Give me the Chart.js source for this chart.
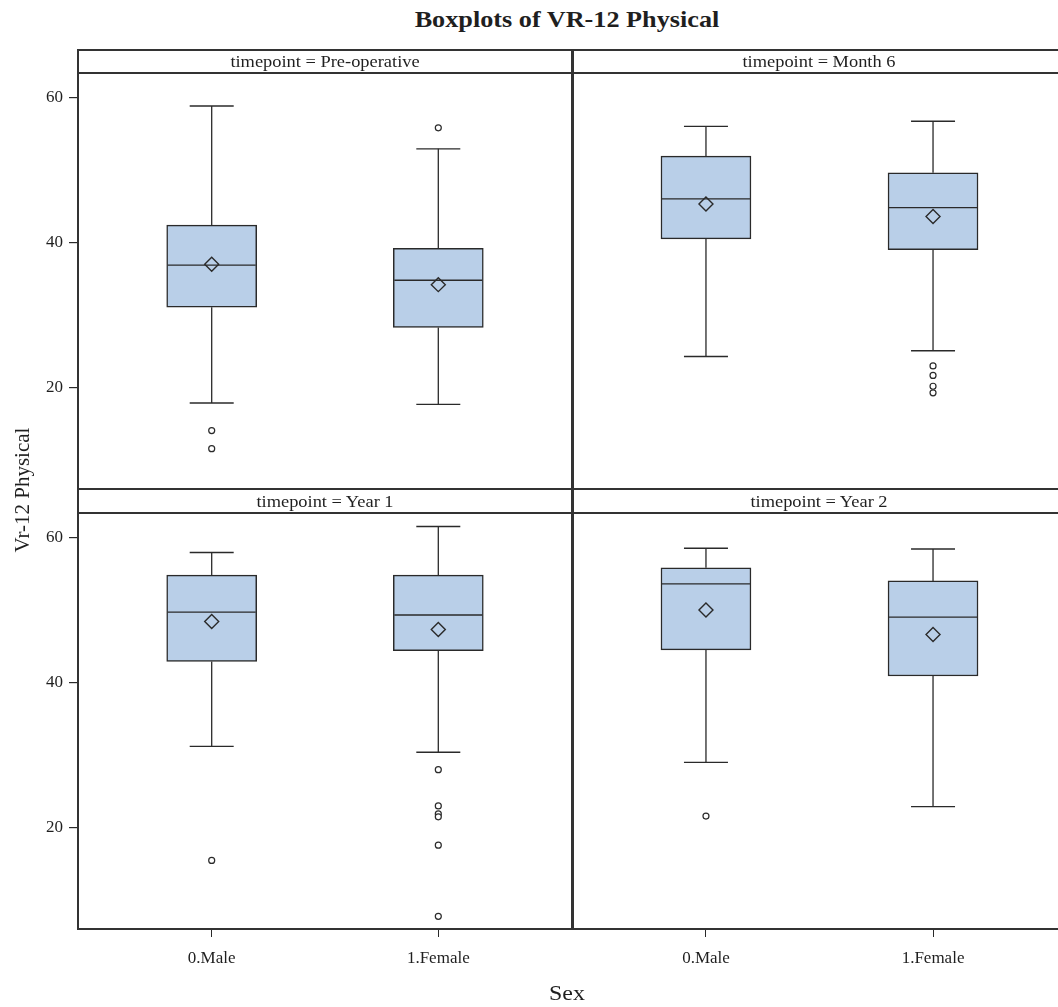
<!DOCTYPE html>
<html>
<head>
<meta charset="utf-8">
<title>Boxplots of VR-12 Physical</title>
<script src="https://cdn.jsdelivr.net/npm/chart.js@4.4.1/dist/chart.umd.min.js"></script>
<style>
  html, body { margin: 0; padding: 0; width: 1058px; height: 1007px; overflow: hidden; background: #fff; }
  body { position: relative; font-family: "Liberation Serif", "Times New Roman", serif; color: #1f1f1f; }
  canvas { position: absolute; z-index: 1; }
  .line { position: absolute; background: #333; z-index: 3; }
  .strip { position: absolute; background: #fff; z-index: 2; }
  .txt { position: absolute; white-space: nowrap; z-index: 4; transform-origin: center center; }
  .striplabel { font-size: 16px; height: 23px; line-height: 23px; text-align: center; transform: scaleX(1.15); }
</style>
</head>
<body>

<div class="txt" id="title" style="left:0; width:1134px; top:7px; text-align:center; font-size:23px; font-weight:bold; transform:scaleX(1.14);">Boxplots of VR-12 Physical</div>

<div class="strip" style="left:78px; top:50px; width:980px; height:23px;"></div>
<div class="strip" style="left:78px; top:489px; width:980px; height:24px;"></div>
<div class="txt striplabel" id="s0" style="left:78px; top:50px; width:494px;"></div>
<div class="txt striplabel" id="s1" style="left:572px; top:50px; width:494px;"></div>
<div class="txt striplabel" id="s2" style="left:78px; top:490px; width:494px;"></div>
<div class="txt striplabel" id="s3" style="left:572px; top:490px; width:494px;"></div>

<canvas id="p0" width="572" height="416" style="left:0; top:73px;"></canvas>
<canvas id="p1" width="495" height="416" style="left:572px; top:73px;"></canvas>
<canvas id="p2" width="572" height="478" style="left:0; top:513px;"></canvas>
<canvas id="p3" width="495" height="478" style="left:572px; top:513px;"></canvas>

<!-- panel frames -->
<div class="line" style="left:78px; top:49px; width:980px; height:1.5px;"></div>
<div class="line" style="left:78px; top:72px; width:980px; height:2px;"></div>
<div class="line" style="left:78px; top:488px; width:980px; height:2px;"></div>
<div class="line" style="left:78px; top:512px; width:980px; height:2px;"></div>
<div class="line" style="left:77px; top:928px; width:981px; height:2px;"></div>
<div class="line" style="left:77px; top:49px; width:2px; height:881px;"></div>
<div class="line" style="left:571px; top:49px; width:2.5px; height:881px;"></div>

<div class="txt" id="ytitle" style="left:-58px; top:477px; width:160px; height:26px; line-height:26px; text-align:center; font-size:21px; transform:rotate(-90deg);">Vr-12 Physical</div>
<div class="txt" id="xtitle" style="left:467px; top:980px; width:200px; text-align:center; font-size:21px; line-height:26px; transform:scaleX(1.14);">Sex</div>

<script>
// Group labels, panel names and axis ticks
const categories = ['0.Male', '1.Female'];
const timepoints = ['Pre-operative', 'Month 6', 'Year 1', 'Year 2'];
const yTicks = [20, 40, 60];

// Box statistics per timepoint, [male, female]
const whiskerHigh = [[58.8, 52.9], [56.0, 56.7], [57.9, 61.5], [58.5, 58.4]];
const q3          = [[42.4, 39.2], [51.9, 49.6], [54.8, 54.8], [55.8, 54.0]];
const medians     = [[36.9, 34.8], [46.0, 44.8], [49.7, 49.3], [53.6, 49.0]];
const means       = [[37.0, 34.2], [45.3, 43.6], [48.4, 47.3], [50.0, 46.6]];
const q1          = [[31.1, 28.3], [40.5, 39.0], [42.9, 44.4], [44.5, 40.9]];
const whiskerLow  = [[17.9, 17.7], [24.3, 25.1], [31.2, 30.4], [29.0, 22.9]];
const outliers = [
  [[14.1, 11.6], [55.8]],
  [[], [23.0, 21.7, 20.2, 19.3]],
  [[15.5], [28.0, 23.0, 21.9, 21.5, 17.6, 7.8]],
  [[21.6], []]
];

// Shared value range of every panel
const yMin = 6.05, yMax = 63.35;
const xMin = -0.59, xMax = 1.59;

const FONT = '"Liberation Serif", "Times New Roman", serif';
const INK = '#2a2a2a';
const BOX_FILL = '#b9cfe8';

timepoints.forEach((t, p) => {
  document.getElementById('s' + p).textContent = 'timepoint = ' + t;
});

function buildPanel(p, showX, showY) {
  const boxData = categories.map((c, i) => ({ x: i, y: [q1[p][i], q3[p][i]] }));
  const whiskerData = [];
  categories.forEach((c, i) => {
    whiskerData.push({ x: i, y: whiskerHigh[p][i] }, { x: i, y: q3[p][i] }, { x: i, y: null },
                     { x: i, y: q1[p][i] }, { x: i, y: whiskerLow[p][i] }, { x: i, y: null });
  });
  const capData = categories.flatMap((c, i) => [{ x: i, y: whiskerHigh[p][i] }, { x: i, y: whiskerLow[p][i] }]);
  const medianData = categories.map((c, i) => ({ x: i, y: medians[p][i] }));
  const meanData = categories.map((c, i) => ({ x: i, y: means[p][i] }));
  const outlierData = categories.flatMap((c, i) => outliers[p][i].map(v => ({ x: i, y: v })));

  new Chart(document.getElementById('p' + p), {
    type: 'bar',
    data: {
      datasets: [
        { type: 'line', data: whiskerData, borderColor: INK, borderWidth: 1.3, pointRadius: 0, spanGaps: false, fill: false, order: 6 },
        { type: 'bar', data: boxData, backgroundColor: BOX_FILL, borderColor: INK, borderWidth: 1.5, borderSkipped: false, barThickness: 90, order: 5 },
        { type: 'scatter', data: capData, pointStyle: 'line', pointRadius: 22, borderColor: INK, pointBorderColor: INK, pointBorderWidth: 1.4, order: 4 },
        { type: 'scatter', data: medianData, pointStyle: 'line', pointRadius: 44, borderColor: INK, pointBorderColor: INK, pointBorderWidth: 1.3, order: 3 },
        { type: 'scatter', data: meanData, pointStyle: 'rectRot', pointRadius: 7, pointBackgroundColor: 'rgba(0,0,0,0)', pointBorderColor: INK, pointBorderWidth: 1.4, order: 2 },
        { type: 'scatter', data: outlierData, pointStyle: 'circle', pointRadius: 3, pointBackgroundColor: '#fff', pointBorderColor: INK, pointBorderWidth: 1.2, order: 1 }
      ]
    },
    options: {
      responsive: false,
      animation: false,
      events: [],
      layout: { padding: 0, autoPadding: false },
      plugins: { legend: { display: false }, tooltip: { enabled: false } },
      scales: {
        x: {
          type: 'linear', min: xMin, max: xMax, offset: false, display: showX,
          afterBuildTicks: s => { s.ticks = categories.map((c, i) => ({ value: i })); },
          afterFit: s => { s.height = showX ? 62 : 0; s.paddingLeft = 0; s.paddingRight = 0; },
          ticks: { callback: v => categories[v], font: { family: FONT, size: 17 }, color: '#1f1f1f', padding: 11, maxRotation: 0, autoSkip: false },
          grid: { offset: false, drawOnChartArea: false, drawTicks: true, tickLength: 8, color: INK, lineWidth: 1 },
          border: { display: false }
        },
        y: {
          type: 'linear', min: yMin, max: yMax, beginAtZero: false, display: showY,
          afterBuildTicks: s => { s.ticks = yTicks.map(v => ({ value: v })); },
          afterFit: s => { s.width = showY ? 78 : 0; s.paddingTop = 0; s.paddingBottom = 0; },
          ticks: { font: { family: FONT, size: 17 }, color: '#1f1f1f', padding: 6 },
          grid: { drawOnChartArea: false, drawTicks: true, tickLength: 9, color: INK, lineWidth: 1.2 },
          border: { display: false }
        }
      }
    }
  });
}

buildPanel(0, false, true);
buildPanel(1, false, false);
buildPanel(2, true, true);
buildPanel(3, true, false);
</script>
</body>
</html>
